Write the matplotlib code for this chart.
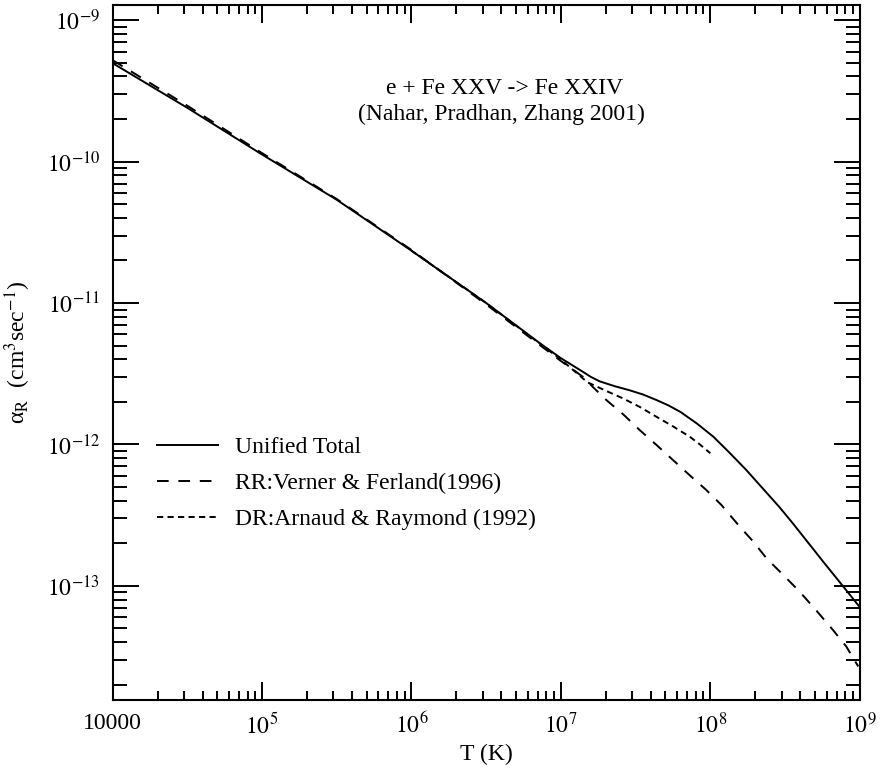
import numpy as np
import matplotlib.pyplot as plt
from matplotlib.ticker import LogLocator, FuncFormatter, NullFormatter

plt.rcParams['font.family'] = ['Liberation Serif', 'DejaVu Serif']
plt.rcParams['mathtext.fontset'] = 'stix'

# curve data (log10 T, log10 alpha)
logT_total = [4.0, 4.5, 5.0, 5.5, 6.0, 6.5, 6.86, 7.0, 7.13, 7.2, 7.26, 7.36, 7.46,
              7.55, 7.64, 7.72, 7.80, 7.91, 8.02, 8.13, 8.24, 8.35, 8.46, 8.55, 8.64,
              8.76, 8.89, 9.0]
loga_total = [-9.304, -9.62, -9.95, -10.27, -10.63, -11.0, -11.285, -11.39, -11.475,
              -11.522, -11.554, -11.588, -11.617, -11.647, -11.686, -11.724, -11.77,
              -11.852, -11.945, -12.06, -12.18, -12.31, -12.44, -12.555, -12.675,
              -12.835, -13.005, -13.15]

logT_rr = [4.0, 4.5, 5.0, 5.5, 6.0, 6.5, 7.0, 7.07, 7.146, 7.22, 7.304, 7.42, 7.527,
           7.64, 7.75, 7.86, 7.973, 8.074, 8.196, 8.29, 8.375, 8.49, 8.597, 8.71,
           8.82, 8.91, 8.99]
loga_rr = [-9.283, -9.605, -9.94, -10.265, -10.625, -11.01, -11.41, -11.462, -11.521,
           -11.6, -11.686, -11.79, -11.898, -12.004, -12.11, -12.216, -12.322, -12.428,
           -12.58, -12.69, -12.804, -12.925, -13.04, -13.175, -13.311, -13.429, -13.57]

logT_dr = [6.0, 6.5, 7.0, 7.1, 7.177, 7.3, 7.415, 7.53, 7.639, 7.75, 7.862, 7.93, 8.0]
loga_dr = [-10.63, -11.0, -11.40, -11.49, -11.56, -11.62, -11.674, -11.736, -11.804,
           -11.872, -11.945, -12.0, -12.062]

labels = ["Unified Total", "RR:Verner & Ferland(1996)", "DR:Arnaud & Raymond (1992)"]

fig = plt.figure(figsize=(8.8, 7.7), dpi=100)
ax = fig.add_axes([0.128, 0.0909, 0.849, 0.9026])

ax.plot(10 ** np.array(logT_total), 10 ** np.array(loga_total), color='black', lw=1.4,
        label=labels[0])
ax.plot(10 ** np.array(logT_rr), 10 ** np.array(loga_rr), color='black', lw=1.4,
        ls=(0, (6, 5)), label=labels[1])
ax.plot(10 ** np.array(logT_dr), 10 ** np.array(loga_dr), color='black', lw=1.4,
        ls=(0, (3.2, 2.2)), label=labels[2])

ax.set_xscale('log')
ax.set_yscale('log')
ax.set_xlim(1e4, 1e9)
ax.set_ylim(1.56e-14, 1.28e-9)


def xfmt(v, pos):
    if abs(v - 1e4) < 1:
        return '10000'
    return r'$10^{%d}$' % round(np.log10(v))


def yfmt(v, pos):
    return r'$10^{%d}$' % round(np.log10(v))


ax.xaxis.set_major_locator(LogLocator(base=10, numticks=20))
ax.xaxis.set_minor_locator(LogLocator(base=10, subs=np.arange(2, 10), numticks=20))
ax.yaxis.set_major_locator(LogLocator(base=10, numticks=20))
ax.yaxis.set_minor_locator(LogLocator(base=10, subs=np.arange(2, 10), numticks=20))
ax.xaxis.set_major_formatter(FuncFormatter(xfmt))
ax.yaxis.set_major_formatter(FuncFormatter(yfmt))
ax.xaxis.set_minor_formatter(NullFormatter())
ax.yaxis.set_minor_formatter(NullFormatter())

ax.tick_params(axis='both', which='both', direction='in', top=True, right=True,
               width=1.4, labelsize=17)
ax.tick_params(axis='x', which='major', length=13, pad=9)
ax.tick_params(axis='x', which='minor', length=6.5)
ax.tick_params(axis='y', which='major', length=18.7, pad=9)
ax.tick_params(axis='y', which='minor', length=10)
for s in ax.spines.values():
    s.set_linewidth(1.5)

ax.set_xlabel('T (K)', fontsize=17, labelpad=4)
ax.set_ylabel('\u03b1$_{\\rm R}$  (cm$^3$sec$^{-1}$)', fontsize=17, labelpad=10)

ax.text(0.525, 0.88, 'e + Fe XXV -> Fe XXIV', transform=ax.transAxes, fontsize=17,
        ha='center', va='center')
ax.text(0.52, 0.842, '(Nahar, Pradhan, Zhang 2001)', transform=ax.transAxes,
        fontsize=17, ha='center', va='center')

ax.legend(loc='upper left', bbox_to_anchor=(0.059, 0.379), frameon=False, fontsize=17,
          handlelength=2.6, handletextpad=0.7, labelspacing=0.62, borderpad=0,
          borderaxespad=0)

fig.savefig('out.png', dpi=100)
